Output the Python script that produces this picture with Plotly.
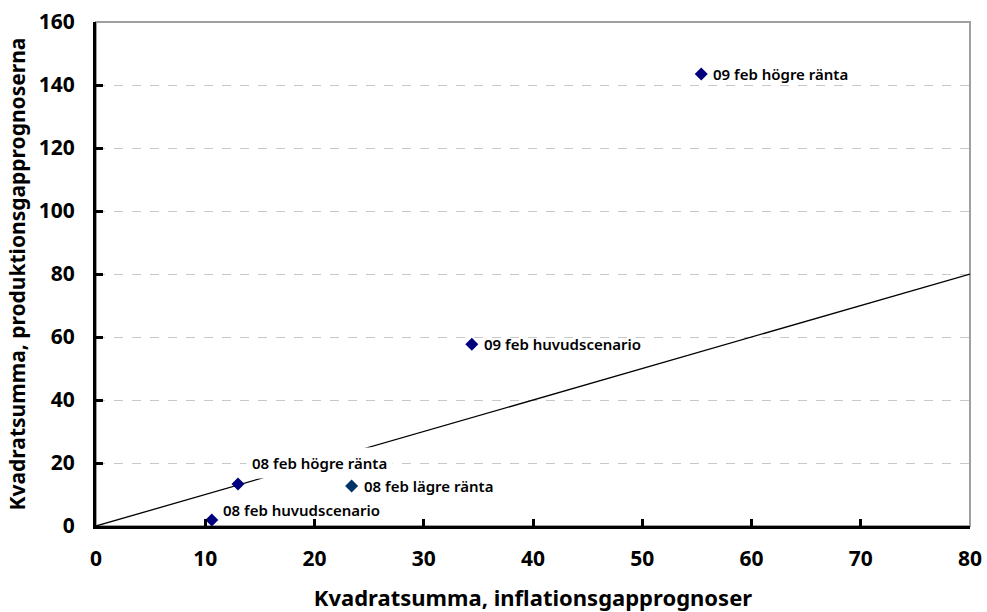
import plotly.graph_objects as go

labels = ["09 feb högre ränta", "09 feb huvudscenario", "08 feb högre ränta",
          "08 feb lägre ränta", "08 feb huvudscenario"]
x_vals = [55.4, 34.4, 13.0, 23.4, 10.6]
y_vals = [143.5, 57.7, 13.3, 12.7, 1.9]
colors = ["#00007F", "#00007F", "#00007F", "#003366", "#00007F"]
line_x = [0, 80]
line_y = [0, 80]
x_ticks = [0, 10, 20, 30, 40, 50, 60, 70, 80]
y_ticks = [0, 20, 40, 60, 80, 100, 120, 140, 160]

# label offsets (px): (xshift, yshift)
label_offsets = [(10, 0), (10, 0), (8, 21), (10, 0), (9, 10)]
label_bg = [None, None, "white", None, None]

FONT = "Noto Sans"

fig = go.Figure()
fig.add_trace(go.Scatter(x=line_x, y=line_y, mode="lines",
                         line=dict(color="black", width=1.3),
                         hoverinfo="skip", showlegend=False, cliponaxis=False))
fig.add_trace(go.Scatter(x=x_vals, y=y_vals, mode="markers",
                         marker=dict(symbol="diamond", size=10, color=colors),
                         showlegend=False, cliponaxis=False))

for lab, xv, yv, (dx, dy), bg in zip(labels, x_vals, y_vals, label_offsets, label_bg):
    ann = dict(x=xv, y=yv, text=lab, showarrow=False, xanchor="left", yanchor="middle",
               xshift=dx, yshift=dy,
               font=dict(family=FONT, size=15, color="black", weight=600))
    if bg:
        ann.update(bgcolor=bg, borderpad=5)
    fig.add_annotation(**ann)

fig.add_shape(type="rect", xref="paper", yref="paper", x0=0, y0=0, x1=1, y1=1,
              line=dict(color="#A0A0A0", width=2), layer="below")

fig.update_layout(
    width=987, height=612,
    margin=dict(l=96, r=17, t=22, b=86),
    paper_bgcolor="white", plot_bgcolor="white",
    font=dict(family=FONT, color="black"),
    xaxis=dict(range=[0, 80], tickvals=x_ticks, showgrid=False, zeroline=False,
               automargin=False, ticklabeloverflow="allow",
               showline=True, linecolor="black", linewidth=3,
               ticks="inside", ticklen=7, tickwidth=3, tickcolor="black",
               ticklabelstandoff=12,
               tickfont=dict(family=FONT, size=21, weight="bold"),
               title=dict(text="Kvadratsumma, inflationsgapprognoser",
                          font=dict(family=FONT, size=22, weight="bold"), standoff=22)),
    yaxis=dict(range=[0, 160], tickvals=y_ticks, showgrid=True, gridcolor="#C8C8C8",
               griddash="dash", gridwidth=1, zeroline=False,
               automargin=False, ticklabeloverflow="allow",
               showline=True, linecolor="black", linewidth=3,
               ticks="inside", ticklen=7, tickwidth=3, tickcolor="black",
               ticklabelstandoff=14,
               tickfont=dict(family=FONT, size=21, weight="bold"),
               title=dict(text="Kvadratsumma, produktionsgapprognoserna",
                          font=dict(family=FONT, size=21, weight="bold"), standoff=8)),
)

# remove the default 8px page margin so the figure fills the 987x612 window
fig.write_html("out.html", config={"displayModeBar": False},
               post_script="document.body.style.margin='0';")
